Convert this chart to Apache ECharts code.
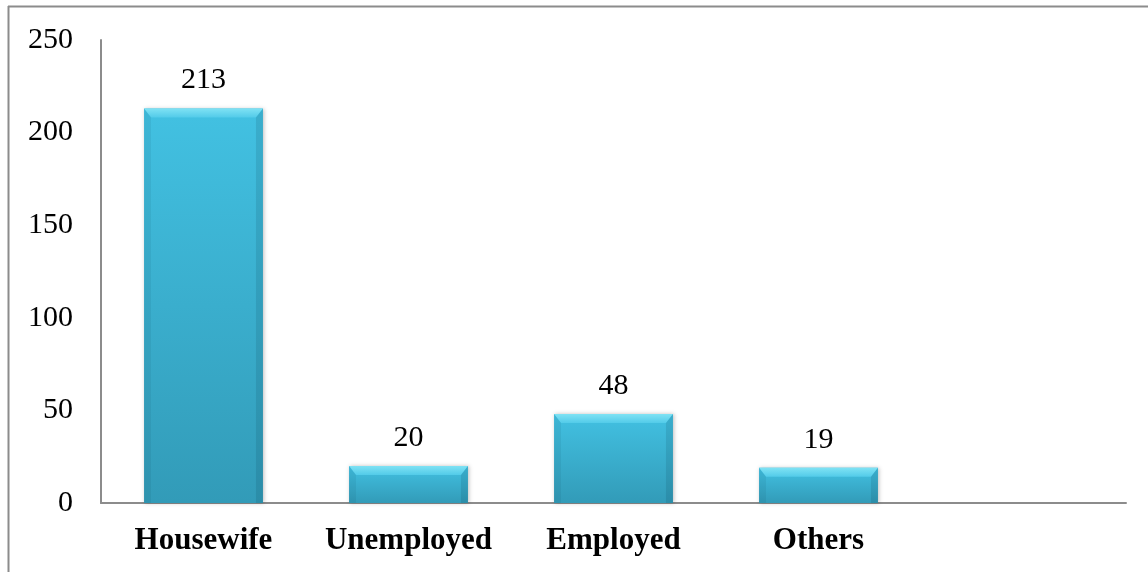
<!DOCTYPE html>
<html>
<head>
<meta charset="utf-8">
<script src="https://cdn.jsdelivr.net/npm/echarts@6/dist/echarts.min.js"></script>
<style>
  html, body { margin: 0; padding: 0; background: #fff; }
  #chart { width: 1148px; height: 572px; }
</style>
</head>
<body>
<div id="chart"></div>
<script>
// Occupation counts; the trailing empty category keeps the bars to the left
const categories = ['Housewife', 'Unemployed', 'Employed', 'Others', ''];
const counts = [213, 20, 48, 19, null];
const yTicks = { min: 0, max: 250, interval: 50 };

const chart = echarts.init(document.getElementById('chart'), null, { renderer: 'canvas' });

const FONT = "'Liberation Serif', 'Times New Roman', serif";

// Bevelled bar: body with vertical gradient, bright top bevel, soft side edges
function renderBar(params, api) {
  const v = api.value(1);
  if (v == null || isNaN(v)) return null;
  const band = api.size([1, 0])[0];
  const w = band * 0.58;
  const top = api.coord([api.value(0), v]);
  const base = api.coord([api.value(0), 0]);
  const x = top[0] - w / 2;
  const y = top[1];
  const h = base[1] - top[1];
  const bev = Math.min(9, h / 3);
  const side = 7;
  return {
    type: 'group',
    children: [
      {
        type: 'rect',
        shape: { x: x, y: y, width: w, height: h },
        style: {
          fill: new echarts.graphic.LinearGradient(0, 0, 0, 1, [
            { offset: 0, color: '#42c1e2' },
            { offset: 1, color: '#329bb8' }
          ]),
          shadowBlur: 4,
          shadowColor: 'rgba(0,0,0,0.25)',
          shadowOffsetX: 1
        }
      },
      {
        type: 'polygon',
        shape: { points: [[x, y], [x + w, y], [x + w - side, y + bev], [x + side, y + bev]] },
        style: {
          fill: new echarts.graphic.LinearGradient(0, 0, 0, 1, [
            { offset: 0, color: '#7fe2f4' },
            { offset: 1, color: '#52cbe9' }
          ])
        }
      },
      {
        type: 'polygon',
        shape: { points: [[x, y], [x + side, y + bev], [x + side, y + h], [x, y + h]] },
        style: { fill: 'rgba(0,40,60,0.07)' }
      },
      {
        type: 'polygon',
        shape: { points: [[x + w, y], [x + w - side, y + bev], [x + w - side, y + h], [x + w, y + h]] },
        style: { fill: 'rgba(0,40,60,0.12)' }
      },
      {
        type: 'text',
        style: {
          x: top[0],
          y: y - 13,
          text: String(v),
          align: 'center',
          verticalAlign: 'bottom',
          font: '30px ' + FONT,
          fill: '#000'
        }
      }
    ]
  };
}

chart.setOption({
  animation: false,
  backgroundColor: '#fff',
  grid: { left: 101, right: 22, top: 40, bottom: 69, containLabel: false },
  xAxis: {
    type: 'category',
    data: categories,
    axisLine: { lineStyle: { color: '#8c8c8c', width: 2 } },
    axisTick: { show: false },
    axisLabel: {
      interval: 0,
      color: '#000',
      fontFamily: FONT,
      fontSize: 31,
      fontWeight: 'bold',
      margin: 22
    }
  },
  yAxis: {
    type: 'value',
    min: yTicks.min,
    max: yTicks.max,
    interval: yTicks.interval,
    axisLine: { show: true, lineStyle: { color: '#8c8c8c', width: 2 } },
    axisTick: { show: false },
    splitLine: { show: false },
    axisLabel: {
      color: '#000',
      fontFamily: FONT,
      fontSize: 30,
      margin: 28
    }
  },
  series: [{
    type: 'custom',
    renderItem: renderBar,
    encode: { x: 0, y: 1 },
    data: categories.map((c, i) => [i, counts[i]])
  }],
  graphic: [
    { type: 'line', shape: { x1: 8, y1: 6.5, x2: 1148, y2: 6.5 }, style: { stroke: '#8c8c8c', lineWidth: 2 } },
    { type: 'line', shape: { x1: 8.5, y1: 6, x2: 8.5, y2: 572 }, style: { stroke: '#8c8c8c', lineWidth: 2 } }
  ]
});
</script>
</body>
</html>
